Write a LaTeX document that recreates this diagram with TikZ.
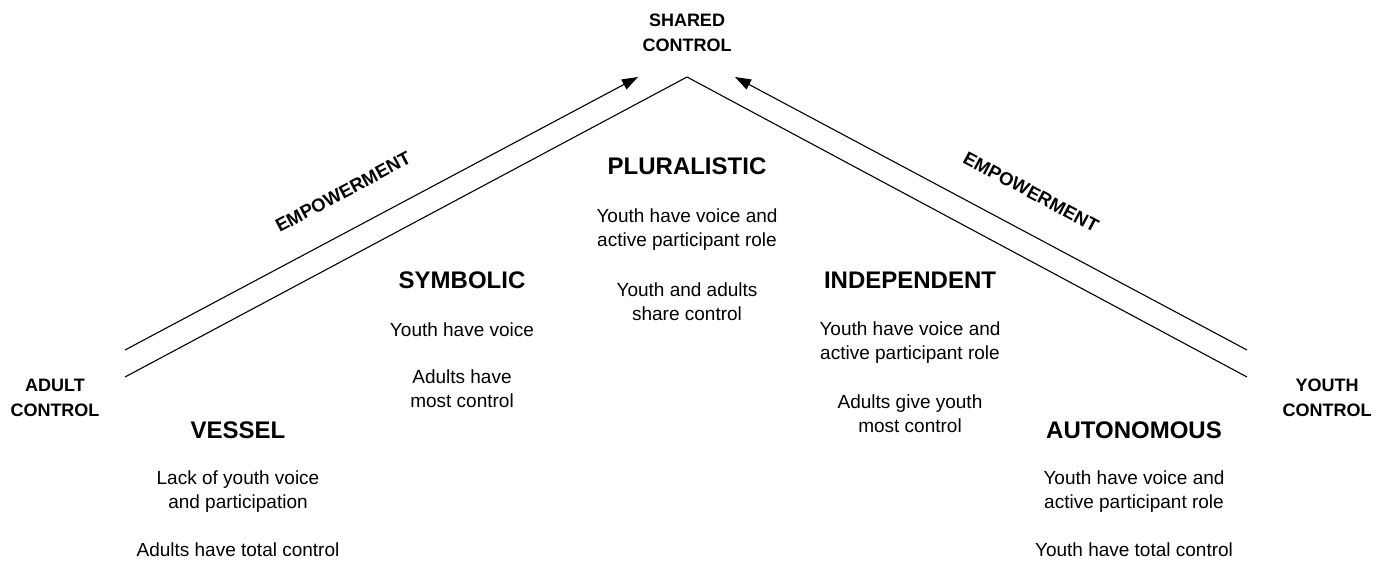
\documentclass[tikz,border=0pt]{standalone}
\usepackage{fontspec}
\setmainfont{Liberation Sans}
\usetikzlibrary{arrows.meta}
\begin{document}
\begin{tikzpicture}[x=1pt,y=-1pt,
  line/.style={line width=1.1pt,black},
  arr/.style={line, -{Triangle[length=16pt,width=11pt]}},
  corner/.style={font=\fontsize{18}{24.5}\selectfont\bfseries, align=center, inner sep=0pt},
  ttl/.style={font=\fontsize{24}{28}\selectfont\bfseries, inner sep=0pt},
  body/.style={font=\fontsize{19}{24}\selectfont, align=center, inner sep=0pt},
  emp/.style={font=\fontsize{18.5}{20}\selectfont\bfseries, inner sep=0pt}]
\useasboundingbox (0,0) rectangle (1381,560);
% geometry
\coordinate (apex) at (687,77);
\coordinate (Lin) at (125,377);
\coordinate (Rin) at (1247,377);
\coordinate (Lout) at (125,350);
\coordinate (Ltip) at (638,77);
\coordinate (Rout) at (1247,350);
\coordinate (Rtip) at (735,77);
\draw[line] (Lin) -- (apex) -- (Rin);
\draw[arr] (Lout) -- (Ltip);
\draw[arr] (Rout) -- (Rtip);
% corner labels
\node[corner] (shared) at (687,33) {SHARED\\CONTROL};
\node[corner] (adult) at (55,398) {ADULT\\CONTROL};
\node[corner] (youth) at (1327,398) {YOUTH\\CONTROL};
% empowerment
\node[emp, rotate=28] (empL) at (343,192) {EMPOWERMENT};
\node[emp, rotate=-28] (empR) at (1031,192) {EMPOWERMENT};
% pluralistic
\node[ttl] (plT) at (687,166) {PLURALISTIC};
\node[body] (plB1) at (687,229.5) {Youth have voice and\\active participant role};
\node[body] (plB2) at (687,301.5) {Youth and adults\\share control};
% symbolic
\node[ttl] (syT) at (462,280) {SYMBOLIC};
\node[body] (syB1) at (462,330) {Youth have voice};
\node[body] (syB2) at (462,389) {Adults have\\most control};
% independent
\node[ttl] (inT) at (910,280) {INDEPENDENT};
\node[body] (inB1) at (910,342.5) {Youth have voice and\\active participant role};
\node[body] (inB2) at (910,413.5) {Adults give youth\\most control};
% vessel
\node[ttl] (veT) at (238,430) {VESSEL};
\node[body] (veB1) at (238,492) {Lack of youth voice\\and participation};
\node[body] (veB2) at (238,550) {Adults have total control};
% autonomous
\node[ttl] (auT) at (1134,430) {AUTONOMOUS};
\node[body] (auB1) at (1134,492) {Youth have voice and\\active participant role};
\node[body] (auB2) at (1134,550) {Youth have total control};
\end{tikzpicture}
\end{document}
